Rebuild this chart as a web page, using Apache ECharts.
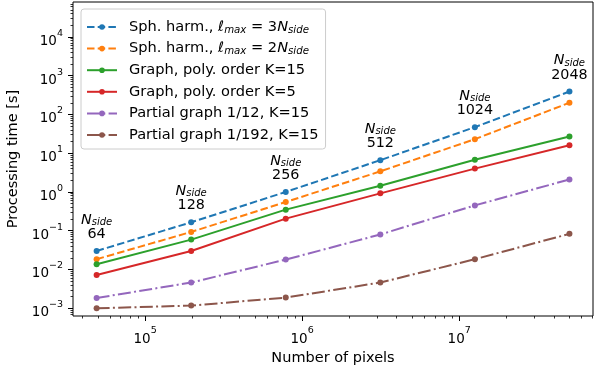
<!DOCTYPE html>
<html>
<head>
<meta charset="utf-8">
<script src="https://cdn.jsdelivr.net/npm/echarts@6/dist/echarts.min.js"></script>
<style>
html, body { margin: 0; padding: 0; background: #fff; }
#chart { width: 594px; height: 367px; }
</style>
</head>
<body>
<div id="chart"></div>
<script>
// N_side of each run and the matching pixel counts (12 * Nside^2)
const nside = [64, 128, 256, 512, 1024, 2048];
const pixels = [49152, 196608, 786432, 3145728, 12582912, 50331648];

// processing time in seconds
const sph3 = [0.030, 0.165, 1.0, 6.6, 47, 390];
const sph2 = [0.0184, 0.093, 0.55, 3.4, 23, 200];
const graph15 = [0.0136, 0.059, 0.35, 1.45, 6.8, 27];
const graph5 = [0.0072, 0.030, 0.205, 0.92, 4.0, 16];
const partial12 = [0.00184, 0.0046, 0.018, 0.080, 0.45, 2.1];
const partial192 = [0.00100, 0.00117, 0.00188, 0.0046, 0.0184, 0.083];

// log axes: decade exponents that get a label
const xTickExps = [5, 6, 7];
const yTickExps = [-3, -2, -1, 0, 1, 2, 3, 4];
const xLimits = [34770, 71100000];
const yLimits = [6.31e-4, 79430];

const FONT = 'DejaVu Sans';
const xLo = Math.log10(xLimits[0]), xHi = Math.log10(xLimits[1]);
const yLo = Math.log10(yLimits[0]), yHi = Math.log10(yLimits[1]);

function minorExps(lo, hi) {
  const out = [];
  for (let e = Math.floor(lo); e <= Math.ceil(hi); e++) {
    for (let k = 2; k <= 9; k++) {
      const v = e + Math.log10(k);
      if (v > lo && v < hi) out.push(v);
    }
  }
  return out;
}

const expLabel = v => {
  const e = Math.round(v);
  return '{b|10}{s|' + (e < 0 ? '\u2212' + (-e) : e) + '}';
};
const supRich = {
  b: {fontFamily: FONT, fontSize: 13.5, color: '#000', lineHeight: 20, verticalAlign: 'bottom'},
  s: {fontFamily: FONT, fontSize: 9.5, color: '#000', lineHeight: 11, verticalAlign: 'top'}
};

const legendText = {
  'sph3': '{t0|Sph. harm., }{i|ℓ}{sb|max}{t| = 3}{i|N}{sb|side}',
  'sph2': '{t0|Sph. harm., }{i|ℓ}{sb|max}{t| = 2}{i|N}{sb|side}',
  'graph15': '{t0|Graph, poly. order K=15}',
  'graph5': '{t0|Graph, poly. order K=5}',
  'partial12': '{t0|Partial graph 1/12, K=15}',
  'partial192': '{t0|Partial graph 1/192, K=15}'
};

const DASHED = [7.5, 3.2];
const DASHDOT = [13, 3.3, 2, 3.3];

function line(name, vals, color, dash) {
  return {
    name: name,
    type: 'line',
    data: pixels.map((p, i) => [Math.log10(p), Math.log10(vals[i])]),
    symbol: 'circle',
    symbolSize: 6,
    lineStyle: {color: color, width: 2, type: dash},
    itemStyle: {color: color},
    emphasis: {disabled: true}
  };
}

const series = [
  line('sph3', sph3, '#1f77b4', DASHED),
  line('sph2', sph2, '#ff7f0e', DASHED),
  line('graph15', graph15, '#2ca02c', 'solid'),
  line('graph5', graph5, '#d62728', 'solid'),
  line('partial12', partial12, '#9467bd', DASHDOT),
  line('partial192', partial192, '#8c564b', DASHDOT)
];
series[0].label = {
  show: true,
  position: 'top',
  distance: 6,
  formatter: p => '{n|N}{sb|side}\n{v|' + nside[p.dataIndex] + '}',
  rich: {
    n: {fontFamily: FONT, fontStyle: 'italic', fontSize: 14.3, lineHeight: 14, verticalAlign: 'top', color: '#000'},
    sb: {fontFamily: FONT, fontStyle: 'italic', fontSize: 10, lineHeight: 10, padding: [5, 0, 0, 0], color: '#000'},
    v: {fontFamily: FONT, fontSize: 14.3, lineHeight: 15, color: '#000'}
  }
};

const noLine = {show: false, onZero: false};

const chart = echarts.init(document.getElementById('chart'));
chart.setOption({
  animation: false,
  grid: {
    left: 73, right: 1, top: 2, bottom: 51,
    outerBoundsMode: 'none', containLabel: false,
    show: true, borderColor: '#000', borderWidth: 1
  },
  legend: {
    orient: 'vertical',
    left: 81,
    top: 9,
    itemWidth: 30,
    itemHeight: 7,
    itemGap: 5.6,
    padding: [10, 7, 6, 5],
    backgroundColor: 'rgba(255,255,255,0.8)',
    borderColor: '#cccccc',
    borderWidth: 1,
    borderRadius: 3,
    data: series.map(s => s.name),
    formatter: n => legendText[n],
    textStyle: {
      fontFamily: FONT,
      fontSize: 14.6,
      lineHeight: 16,
      color: '#000',
      rich: {
        t0: {fontFamily: FONT, fontSize: 14.6, lineHeight: 16, padding: [0, 0, 0, 7], color: '#000'},
        t: {fontFamily: FONT, fontSize: 14.6, lineHeight: 16, color: '#000'},
        i: {fontFamily: FONT, fontSize: 14.6, fontStyle: 'italic', lineHeight: 16, color: '#000'},
        sb: {fontFamily: FONT, fontSize: 10.2, fontStyle: 'italic', lineHeight: 10, padding: [6, 0, 0, 0], color: '#000'}
      }
    }
  },
  xAxis: [
    {
      type: 'value', min: xLo, max: xHi, position: 'bottom',
      axisLine: noLine, splitLine: {show: false},
      axisTick: {show: true, customValues: xTickExps, length: 5, lineStyle: {color: '#000', width: 1}},
      axisLabel: {show: true, customValues: xTickExps, margin: 10, formatter: expLabel, rich: supRich},
      name: 'Number of pixels', nameLocation: 'middle', nameGap: 31,
      nameTextStyle: {fontFamily: FONT, fontSize: 14.5, color: '#000'}
    },
    {
      type: 'value', min: xLo, max: xHi, position: 'bottom',
      axisLine: noLine, splitLine: {show: false},
      axisTick: {show: true, customValues: minorExps(xLo, xHi), length: 2.5, lineStyle: {color: '#000', width: 0.8}},
      axisLabel: {show: false}
    }
  ],
  yAxis: [
    {
      type: 'value', min: yLo, max: yHi, position: 'left',
      axisLine: noLine, splitLine: {show: false},
      axisTick: {show: true, customValues: yTickExps, length: 5, lineStyle: {color: '#000', width: 1}},
      axisLabel: {show: true, customValues: yTickExps, margin: 10, padding: [3, 0, 0, 0], formatter: expLabel, rich: supRich},
      name: 'Processing time [s]', nameLocation: 'middle', nameGap: 48,
      nameTextStyle: {fontFamily: FONT, fontSize: 14.5, color: '#000'}
    },
    {
      type: 'value', min: yLo, max: yHi, position: 'left',
      axisLine: noLine, splitLine: {show: false},
      axisTick: {show: true, customValues: minorExps(yLo, yHi), length: 2.5, lineStyle: {color: '#000', width: 0.8}},
      axisLabel: {show: false}
    }
  ],
  series: series
});
</script>
</body>
</html>
